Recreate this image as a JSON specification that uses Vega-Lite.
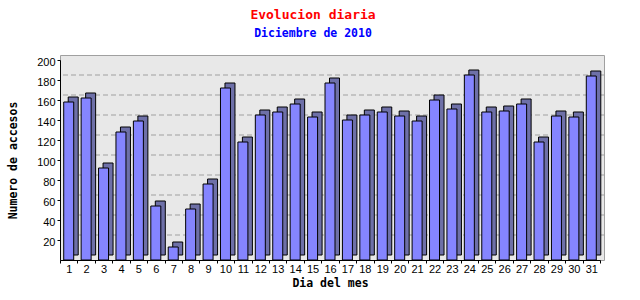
{
  "$schema": "https://vega.github.io/schema/vega-lite/v6.json",
  "width": 544,
  "height": 205,
  "autosize": "none",
  "padding": {"left": 60, "top": 55, "right": 36, "bottom": 40},
  "background": "white",
  "title": {
    "text": "Evolucion diaria",
    "subtitle": "Diciembre de 2010",
    "color": "#ff0000",
    "subtitleColor": "#0000ff",
    "font": "DejaVu Sans Mono",
    "fontSize": 13,
    "fontWeight": "bold",
    "subtitleFont": "DejaVu Sans Mono",
    "subtitleFontSize": 11.5,
    "subtitleFontWeight": "bold",
    "anchor": "middle",
    "dx": -19,
    "offset": 16,
    "subtitlePadding": 6
  },
  "config": {
    "view": {"fill": "#e8e8e8", "stroke": "#a0a0a0"},
    "axisY": {"labelOverlap": false},
    "axisX": {"labelOverlap": false}
  },
  "datasets": {
    "grid": [{"accesos": 20}, {"accesos": 40}, {"accesos": 60}, {"accesos": 80}, {"accesos": 100}, {"accesos": 120}, {"accesos": 140}, {"accesos": 160}, {"accesos": 180}]
  },
  "data": {
    "values": [
      {"dia": 1, "accesos": 158}, {"dia": 2, "accesos": 162}, {"dia": 3, "accesos": 92},
      {"dia": 4, "accesos": 128}, {"dia": 5, "accesos": 139}, {"dia": 6, "accesos": 54},
      {"dia": 7, "accesos": 13}, {"dia": 8, "accesos": 51}, {"dia": 9, "accesos": 76},
      {"dia": 10, "accesos": 172}, {"dia": 11, "accesos": 118}, {"dia": 12, "accesos": 145},
      {"dia": 13, "accesos": 148}, {"dia": 14, "accesos": 156}, {"dia": 15, "accesos": 143},
      {"dia": 16, "accesos": 177}, {"dia": 17, "accesos": 140}, {"dia": 18, "accesos": 145},
      {"dia": 19, "accesos": 148}, {"dia": 20, "accesos": 144}, {"dia": 21, "accesos": 139},
      {"dia": 22, "accesos": 160}, {"dia": 23, "accesos": 151}, {"dia": 24, "accesos": 185},
      {"dia": 25, "accesos": 148}, {"dia": 26, "accesos": 149}, {"dia": 27, "accesos": 156},
      {"dia": 28, "accesos": 118}, {"dia": 29, "accesos": 144}, {"dia": 30, "accesos": 143},
      {"dia": 31, "accesos": 184}
    ]
  },
  "layer": [
    {
      "data": {"name": "grid"},
      "mark": {"type": "rule", "yOffset": -5, "strokeDash": [5, 3], "color": "#a0a0a0", "strokeWidth": 1},
      "encoding": {
        "y": {
          "field": "accesos",
          "type": "quantitative",
          "scale": {"domain": [0, 200], "range": [205, 5], "nice": false},
          "axis": {
            "title": "Numero de accesos",
            "values": [20, 40, 60, 80, 100, 120, 140, 160, 180, 200],
            "tickCount": 20,
            "grid": false,
            "labelOverlap": false,
            "domainColor": "#000000",
            "tickColor": "#000000",
            "tickSize": 3,
            "labelPadding": 2,
            "labelOffset": 2,
            "labelFont": "Liberation Sans",
            "labelFontSize": 11,
            "labelColor": "#000000",
            "titleFont": "DejaVu Sans Mono",
            "titleFontSize": 11.5,
            "titleFontWeight": "bold",
            "titleColor": "#000000",
            "titlePadding": 18
          }
        }
      }
    },
    {
      "mark": {"type": "bar", "color": "#6e70a8", "stroke": "#000000", "strokeWidth": 1, "size": 10, "xOffset": 4.5, "yOffset": -5},
      "encoding": {
        "x": {
          "field": "dia",
          "type": "ordinal",
          "scale": {"range": [0, 540], "paddingInner": 0, "paddingOuter": 0},
          "axis": {
            "title": "Dia del mes",
            "labelAngle": 0,
            "tickBand": "extent",
            "domainColor": "#000000",
            "tickColor": "#000000",
            "tickSize": 3,
            "labelPadding": 0,
            "labelFont": "Liberation Sans",
            "labelFontSize": 11,
            "labelColor": "#000000",
            "titleFont": "DejaVu Sans Mono",
            "titleFontSize": 11.5,
            "titleFontWeight": "bold",
            "titleColor": "#000000",
            "titlePadding": 3
          }
        },
        "y": {"field": "accesos", "type": "quantitative"}
      }
    },
    {
      "mark": {"type": "bar", "color": "#8585ff", "stroke": "#000000", "strokeWidth": 1, "size": 10},
      "encoding": {
        "x": {"field": "dia", "type": "ordinal"},
        "y": {"field": "accesos", "type": "quantitative"}
      }
    }
  ]
}
